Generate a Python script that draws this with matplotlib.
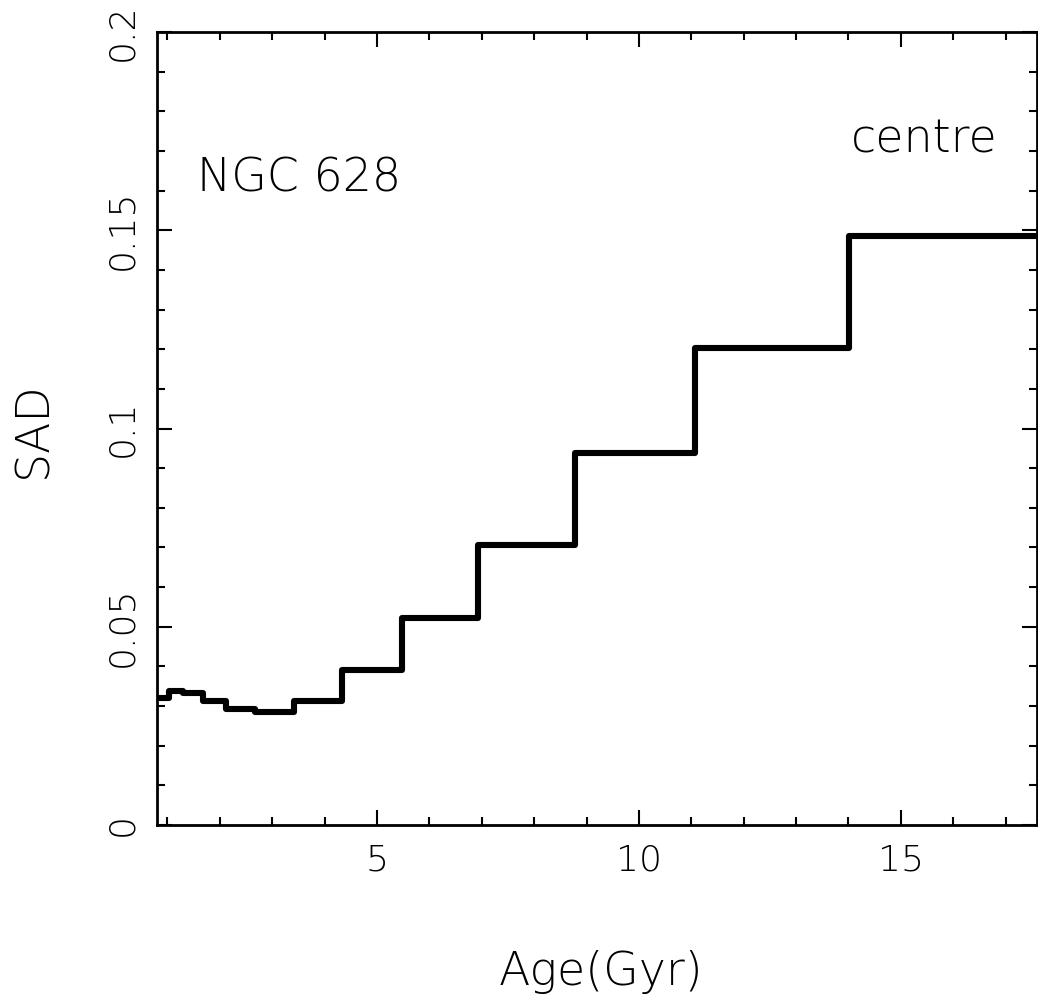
import matplotlib
matplotlib.use("Agg")
import matplotlib.pyplot as plt
from matplotlib.ticker import MultipleLocator

# bin edges of the age histogram (Gyr) and the SAD value in each bin
age_edges = [0.80, 1.03, 1.30, 1.68, 2.12, 2.67, 3.42, 4.33, 5.48, 6.93, 8.78, 11.07, 14.01, 17.80]
sad = [0.0320, 0.0338, 0.0333, 0.0313, 0.0292, 0.0285, 0.0313, 0.0391, 0.0522, 0.0706, 0.0938, 0.1203, 0.1486]

x_ticks = [5, 10, 15]
y_ticks = [0, 0.05, 0.1, 0.15, 0.2]
y_tick_labels = ['0', '0.05', '0.1', '0.15', '0.2']

plt.rcParams['font.family'] = ['DejaVu Sans']
plt.rcParams['font.weight'] = 'light'

fig = plt.figure(figsize=(10.38, 9.98), dpi=100)
ax = fig.add_axes([157 / 1038, 1 - 825 / 998, 880 / 1038, 793 / 998])

step = ax.stairs(sad, age_edges, baseline=None, color='black', linewidth=4.4)
step.set_joinstyle('round')
step.set_capstyle('butt')

ax.set_xlim(0.8, 17.6)
ax.set_ylim(0, 0.2)

ax.set_xticks(x_ticks)
ax.set_yticks(y_ticks)
ax.set_yticklabels(y_tick_labels, rotation=90, va='center')
ax.xaxis.set_minor_locator(MultipleLocator(1))
ax.yaxis.set_minor_locator(MultipleLocator(0.01))

ax.tick_params(which='both', direction='in', top=True, right=True, width=1.5, labelsize=26)
ax.tick_params(which='major', length=11)
ax.tick_params(which='minor', length=6)
ax.tick_params(axis='x', pad=13)
ax.tick_params(axis='y', pad=13)
for s in ax.spines.values():
    s.set_linewidth(2)

ax.text(1.56, 0.1597, 'NGC 628', fontsize=33, va='baseline', ha='left')
ax.text(14.05, 0.1695, 'centre', fontsize=33, va='baseline', ha='left')

fig.text(601 / 1038, 1 - 985 / 998, 'Age(Gyr)', fontsize=33, ha='center', va='baseline')
fig.text(33 / 1038, 1 - 430 / 998, 'SAD', fontsize=33, ha='center', va='center', rotation=90)

fig.savefig('out.png', dpi=100)
